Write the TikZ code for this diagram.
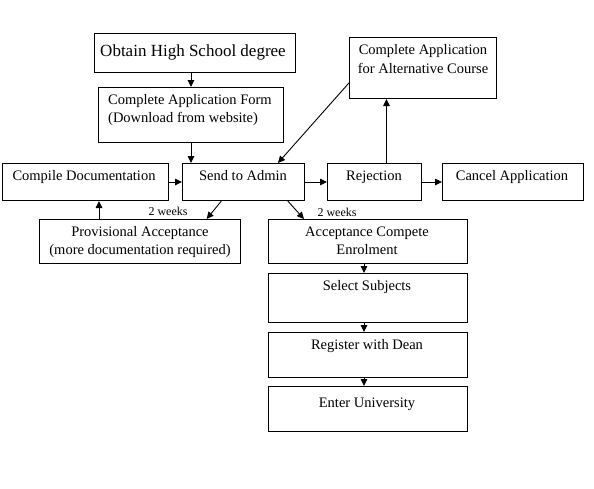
\documentclass[tikz,border=0pt]{standalone}
\usepackage{fontspec}
\setmainfont{Liberation Serif}
\usetikzlibrary{arrows.meta,calc}
\newcommand\mkbox[5]{\node[box, anchor=north west, minimum width={#4-#2}, minimum height={#5-#3}] (#1) at (#2,#3) {};}
\begin{document}
\begin{tikzpicture}[x=1pt,y=-1pt,
  box/.style={draw, line width=1pt, inner sep=0pt, rectangle},
  txt/.style={font=\fontsize{14.5}{18.5}\selectfont, inner sep=0pt, anchor=base, align=center},
  bigtxt/.style={font=\fontsize{17}{20}\selectfont, inner sep=0pt, anchor=base},
  small/.style={font=\fontsize{12}{14}\selectfont, inner sep=0pt, anchor=base},
  arr/.style={line width=0.9pt, -{Triangle[length=7pt,width=6.5pt]}}]
\useasboundingbox (0,0) rectangle (594,488);
\mkbox{obtain}{94}{33}{295}{72}
\mkbox{form}{98}{87}{283}{142}
\mkbox{alt}{349}{37}{496}{98}
\mkbox{compile}{2}{163}{168}{200}
\mkbox{send}{182}{163}{304}{200}
\mkbox{rej}{327}{163}{421}{200}
\mkbox{cancel}{442}{163}{583}{200}
\mkbox{prov}{39}{219}{240}{263}
\mkbox{acc}{268}{219}{467}{263}
\mkbox{sel}{268}{273}{467}{322}
\mkbox{reg}{268}{332}{467}{377}
\mkbox{enter}{268}{386}{467}{431}
% texts (multi-line nodes: base anchor = last line's baseline)
\node[bigtxt] (tobtain) at (193,56) {Obtain High School degree};
\node[txt, anchor=base west, align=left] (tform) at (108,122.5) {Complete Application Form\\(Download from website)};
\node[txt] (talt) at (423,73) {Complete Application\\for Alternative Course};
\node[txt] (tcompile) at (84,180) {Compile Documentation};
\node[txt] (tsend) at (243,180) {Send to Admin};
\node[txt] (trej) at (374,180) {Rejection};
\node[txt] (tcancel) at (512,180) {Cancel Application};
\node[txt] (tprov) at (140,254.5) {Provisional Acceptance\\(more documentation required)};
\node[txt] (tacc) at (367,254.5) {Acceptance Compete\\Enrolment};
\node[txt] (tsel) at (367,290) {Select Subjects};
\node[txt] (treg) at (367,349) {Register with Dean};
\node[txt] (tenter) at (367,407) {Enter University};
\node[small] (w1) at (168,215) {2 weeks};
\node[small] (w2) at (337,216) {2 weeks};
% connectors
\draw[arr] (obtain.south -| form.north) -- (form.north);
\draw[arr] (form.south) -- (form.south |- send.north);
\draw[arr] (compile.east) -- (send.west);
\draw[arr] (send.east) -- (rej.west);
\draw[arr] (rej.east) -- (cancel.west);
\coordinate (r1) at ($(rej.north)+(12,0)$);
\draw[arr] (r1) -- (r1 |- alt.south);
\draw[arr] ($(alt.north west)!0.74!(alt.south west)$) -- ($(send.north west)!0.78!(send.north east)$);
\draw[arr] ($(send.south west)!0.32!(send.south east)$) -- ($(prov.north west)!0.83!(prov.north east)$);
\draw[arr] ($(send.south west)!0.86!(send.south east)$) -- ($(acc.north west)!0.18!(acc.north east)$);
\coordinate (p1) at ($(prov.north west)+(60,0)$);
\draw[arr] (p1) -- (p1 |- compile.south);
\coordinate (a1) at ($(acc.south west)+(96,0)$);
\draw[arr] (a1) -- (a1 |- sel.north);
\coordinate (s1) at ($(sel.south west)+(96,0)$);
\draw[arr] (s1) -- (s1 |- reg.north);
\coordinate (g1) at ($(reg.south west)+(96,0)$);
\draw[arr] (g1) -- (g1 |- enter.north);
\end{tikzpicture}
\end{document}
